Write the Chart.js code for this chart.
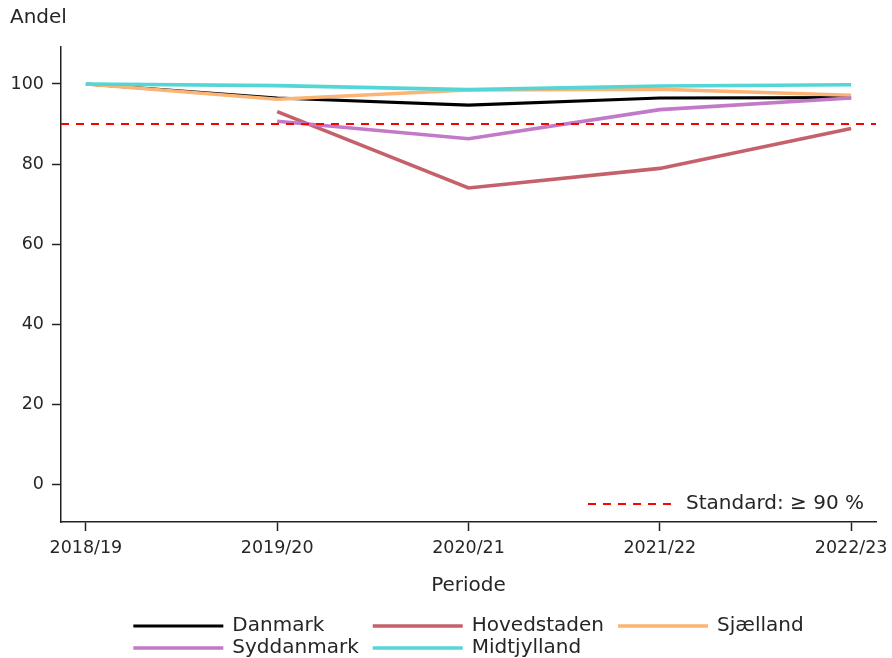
<!DOCTYPE html>
<html>
<head>
<meta charset="utf-8">
<script src="https://cdn.jsdelivr.net/npm/chart.js@4.4.0/dist/chart.umd.min.js"></script>
<style>
  html, body { margin: 0; padding: 0; background: #fff; }
  #wrap { width: 892px; height: 658px; }
</style>
</head>
<body>
<div id="wrap"><canvas id="myChart" width="892" height="658"></canvas></div>
<script>
// data
const periods = ['2018/19', '2019/20', '2020/21', '2021/22', '2022/23'];
const danmark = [100, 96.5, 94.7, 96.5, 96.6];
const hovedstaden = [null, 93.1, 74.0, 78.9, 88.9];
const sjaelland = [100, 96.2, 98.5, 98.7, 97.2];
const syddanmark = [null, 90.7, 86.3, 93.6, 96.5];
const midtjylland = [100, 99.6, 98.6, 99.5, 99.8];
const yTicks = [0, 20, 40, 60, 80, 100];
const standard = 90;
const standardLabel = 'Standard: \u2265 90 %';

const FONT = '"DejaVu Sans", Verdana, sans-serif';
const TEXT = '#262626';

function toPoints(arr) {
  return arr.map(function(v, i) { return { x: i, y: v }; });
}

const series = [
  { label: 'Danmark', data: danmark, color: '#000000', width: 3.2 },
  { label: 'Hovedstaden', data: hovedstaden, color: '#c5616a', width: 3.6 },
  { label: 'Sjælland', data: sjaelland, color: '#fbb474', width: 3.6 },
  { label: 'Syddanmark', data: syddanmark, color: '#c279c8', width: 3.6 },
  { label: 'Midtjylland', data: midtjylland, color: '#55d6d6', width: 3.6 }
];

const extras = {
  id: 'extras',
  afterDatasetsDraw(chart) {
    const c = chart.ctx, a = chart.chartArea, y = chart.scales.y;
    // reference line
    c.save();
    c.strokeStyle = '#ff0000';
    c.lineWidth = 2;
    c.setLineDash([8, 7]);
    const yy = y.getPixelForValue(standard);
    c.beginPath();
    c.moveTo(a.left, yy);
    c.lineTo(a.right, yy);
    c.stroke();
    c.restore();
  },
  afterDraw(chart) {
    const c = chart.ctx, a = chart.chartArea;
    c.save();
    c.fillStyle = TEXT;
    c.font = '20px ' + FONT;
    c.textBaseline = 'middle';
    c.textAlign = 'left';
    c.fillText('Andel', 10, 18);
    c.textAlign = 'center';
    c.fillText('Periode', (a.left + a.right) / 2, 586);

    // standard legend, inside plot bottom right
    c.textAlign = 'right';
    const tx = a.right - 12, ty = 504;
    c.fillText(standardLabel, tx, ty);
    const tw = c.measureText(standardLabel).width;
    c.strokeStyle = '#ff0000';
    c.lineWidth = 2;
    c.setLineDash([8, 7]);
    c.beginPath();
    c.moveTo(tx - tw - 98, ty);
    c.lineTo(tx - tw - 11, ty);
    c.stroke();
    c.setLineDash([]);

    // bottom legend, 3 columns
    const ds = chart.data.datasets;
    const cols = 3, lineLen = 90, gap = 9, colSpace = 14;
    const colW = [0, 0, 0];
    ds.forEach(function(d, i) {
      const w = c.measureText(d.label).width;
      colW[i % cols] = Math.max(colW[i % cols], w);
    });
    let total = 0;
    colW.forEach(function(w) { total += lineLen + gap + w; });
    total += colSpace * (cols - 1);
    const startX = (a.left + a.right) / 2 - total / 2;
    const colX = [];
    let cx = startX;
    colW.forEach(function(w) { colX.push(cx); cx += lineLen + gap + w + colSpace; });
    c.textAlign = 'left';
    ds.forEach(function(d, i) {
      const x0 = colX[i % cols];
      const y0 = 626 + Math.floor(i / cols) * 22;
      c.strokeStyle = d.borderColor;
      c.lineWidth = d.borderWidth;
      c.beginPath();
      c.moveTo(x0, y0);
      c.lineTo(x0 + lineLen, y0);
      c.stroke();
      c.fillText(d.label, x0 + lineLen + gap, y0);
    });
    c.restore();
  }
};

const ctx = document.getElementById('myChart');
const myChart = new Chart(ctx, {
  type: 'line',
  data: {
    datasets: series.map(function(s, i) {
      return {
        label: s.label,
        data: toPoints(s.data),
        borderColor: s.color,
        backgroundColor: s.color,
        borderWidth: s.width,
        pointRadius: 0,
        fill: false,
        tension: 0,
        spanGaps: false,
        order: series.length - i
      };
    })
  },
  options: {
    responsive: false,
    animation: false,
    layout: { padding: { top: 47, right: 16, left: 0, bottom: 0 } },
    plugins: { legend: { display: false }, tooltip: { enabled: false } },
    scales: {
      x: {
        type: 'linear',
        min: -0.13,
        max: 4.13,
        afterBuildTicks: function(scale) {
          scale.ticks = periods.map(function(p, i) { return { value: i }; });
        },
        afterFit: function(scale) {
          scale.height = 136;
          scale.paddingLeft = 0;
          scale.paddingRight = 0;
        },
        grid: { display: true, drawOnChartArea: false, drawTicks: true, tickLength: 9, tickWidth: 1.5, tickColor: '#222' },
        border: { display: true, color: '#222', width: 1.5 },
        ticks: {
          color: TEXT,
          font: { family: FONT, size: 17.5 },
          padding: 7,
          maxRotation: 0,
          autoSkip: false,
          callback: function(v) { return periods[v]; }
        }
      },
      y: {
        min: -9.5,
        max: 109.25,
        afterBuildTicks: function(scale) {
          scale.ticks = yTicks.map(function(v) { return { value: v }; });
        },
        afterFit: function(scale) { scale.width = 61; },
        grid: { display: true, drawOnChartArea: false, drawTicks: true, tickLength: 9, tickWidth: 1.5, tickColor: '#222' },
        border: { display: true, color: '#222', width: 1.5 },
        ticks: {
          color: TEXT,
          font: { family: FONT, size: 17.5 },
          padding: 8
        }
      }
    }
  },
  plugins: [extras]
});
</script>
</body>
</html>
